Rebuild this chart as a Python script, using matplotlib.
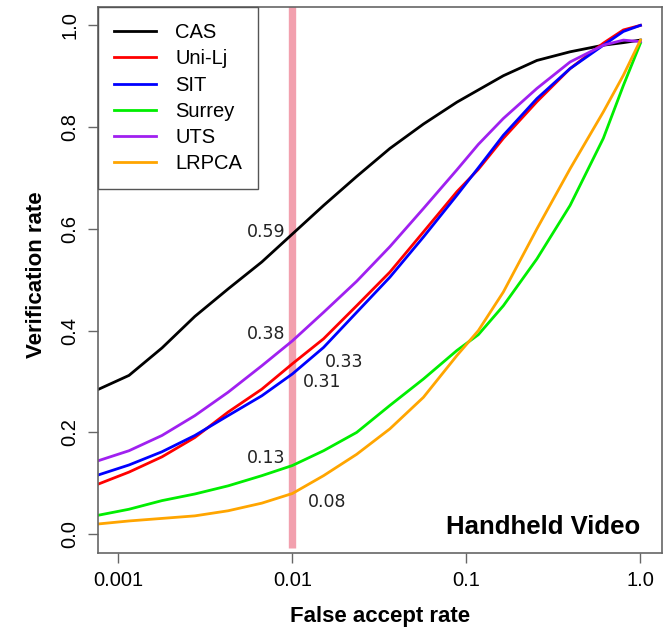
import matplotlib
matplotlib.use('Agg')
import matplotlib.pyplot as plt

# false accept rate sample points
far = [0.00076, 0.00115, 0.00178, 0.00275, 0.00427, 0.00667, 0.01, 0.0151, 0.0234,
       0.0363, 0.0566, 0.0881, 0.117, 0.163, 0.254, 0.394, 0.612, 0.798, 1.0]

# verification rate of each algorithm
cas = [0.284, 0.312, 0.366, 0.428, 0.482, 0.535, 0.59, 0.646, 0.703, 0.758, 0.806,
       0.849, 0.873, 0.901, 0.931, 0.948, 0.961, 0.966, 0.971]
uni_lj = [0.098, 0.122, 0.152, 0.19, 0.24, 0.285, 0.335, 0.384, 0.449, 0.515, 0.594,
          0.673, 0.717, 0.778, 0.85, 0.915, 0.965, 0.991, 1.0]
sit = [0.116, 0.136, 0.162, 0.194, 0.233, 0.272, 0.315, 0.367, 0.436, 0.505, 0.584,
       0.666, 0.72, 0.784, 0.856, 0.915, 0.961, 0.988, 1.0]
surrey = [0.037, 0.049, 0.066, 0.079, 0.095, 0.115, 0.135, 0.164, 0.20, 0.253, 0.305,
          0.361, 0.392, 0.449, 0.541, 0.646, 0.778, 0.882, 0.965]
uts = [0.144, 0.164, 0.194, 0.233, 0.279, 0.331, 0.38, 0.436, 0.497, 0.565, 0.64,
       0.716, 0.766, 0.817, 0.876, 0.928, 0.961, 0.971, 0.968]
lrpca = [0.020, 0.026, 0.031, 0.036, 0.046, 0.061, 0.08, 0.115, 0.157, 0.207, 0.269,
         0.351, 0.40, 0.476, 0.60, 0.718, 0.83, 0.902, 0.971]

names = ['CAS', 'Uni-Lj', 'SIT', 'Surrey', 'UTS', 'LRPCA']
colors = ['black', '#FF0000', '#0000FF', '#00EE00', '#A020F0', '#FFA500']

# values printed at FAR = 0.01
marked_far = 0.01
marked_labels = ['0.59', '0.38', '0.33', '0.31', '0.13', '0.08']

fig = plt.figure(figsize=(6.64, 6.27), dpi=100)
ax = fig.add_axes([0.1471, 0.1180, 0.8499, 0.8708])

# marker line at 0.01
ax.vlines(marked_far, -0.027, 1.04, color='#F2A0AE', linewidth=5.3, zorder=1)

for vals, name, col in zip([cas, uni_lj, sit, surrey, uts, lrpca], names, colors):
    ax.plot(far, vals, color=col, linewidth=2, label=name, zorder=2)

# the labels next to the marker line
txt_style = dict(fontsize=12.5, color='#222222', family='DejaVu Sans', va='center')
ax.text(0.0091, 0.594, marked_labels[0], ha='right', **txt_style)
ax.text(0.0091, 0.394, marked_labels[1], ha='right', **txt_style)
ax.text(0.0154, 0.339, marked_labels[2], ha='left', **txt_style)
ax.text(0.0115, 0.299, marked_labels[3], ha='left', **txt_style)
ax.text(0.0091, 0.150, marked_labels[4], ha='right', **txt_style)
ax.text(0.0122, 0.063, marked_labels[5], ha='left', **txt_style)

ax.text(1.0, 0.0, 'Handheld Video', ha='right', va='baseline', fontsize=18.5,
        fontweight='bold', family='Liberation Sans')

ax.set_xscale('log')
ax.set_xlim(0.00076, 1.33)
ax.set_ylim(-0.037, 1.036)
ax.set_xticks([0.001, 0.01, 0.1, 1.0])
ax.set_xticklabels(['0.001', '0.01', '0.1', '1.0'])
ax.minorticks_off()
ax.set_yticks([0.0, 0.2, 0.4, 0.6, 0.8, 1.0])
ax.set_yticklabels(['0.0', '0.2', '0.4', '0.6', '0.8', '1.0'], rotation=90, va='center')

for lbl in ax.get_xticklabels() + ax.get_yticklabels():
    lbl.set_family('Liberation Sans')
    lbl.set_fontsize(14.5)
ax.tick_params(length=7, width=1, color='#666666', pad=6)
for sp in ax.spines.values():
    sp.set_color('#666666')
    sp.set_linewidth(1.2)

ax.set_xlabel('False accept rate', fontsize=16, fontweight='bold', family='Liberation Sans')
ax.set_ylabel('Verification rate', fontsize=16, fontweight='bold', family='Liberation Sans')
ax.xaxis.set_label_coords(0.5, -0.097)
ax.yaxis.set_label_coords(-0.09, 0.51)

leg = ax.legend(loc='upper left', borderaxespad=0, fancybox=False, framealpha=1,
                edgecolor='#555555', prop={'family': 'Liberation Sans', 'size': 14.5},
                handlelength=2.1, handletextpad=0.95, labelspacing=0.36, borderpad=0.8)
leg.get_frame().set_linewidth(1.0)

fig.savefig('out.png', dpi=100)
